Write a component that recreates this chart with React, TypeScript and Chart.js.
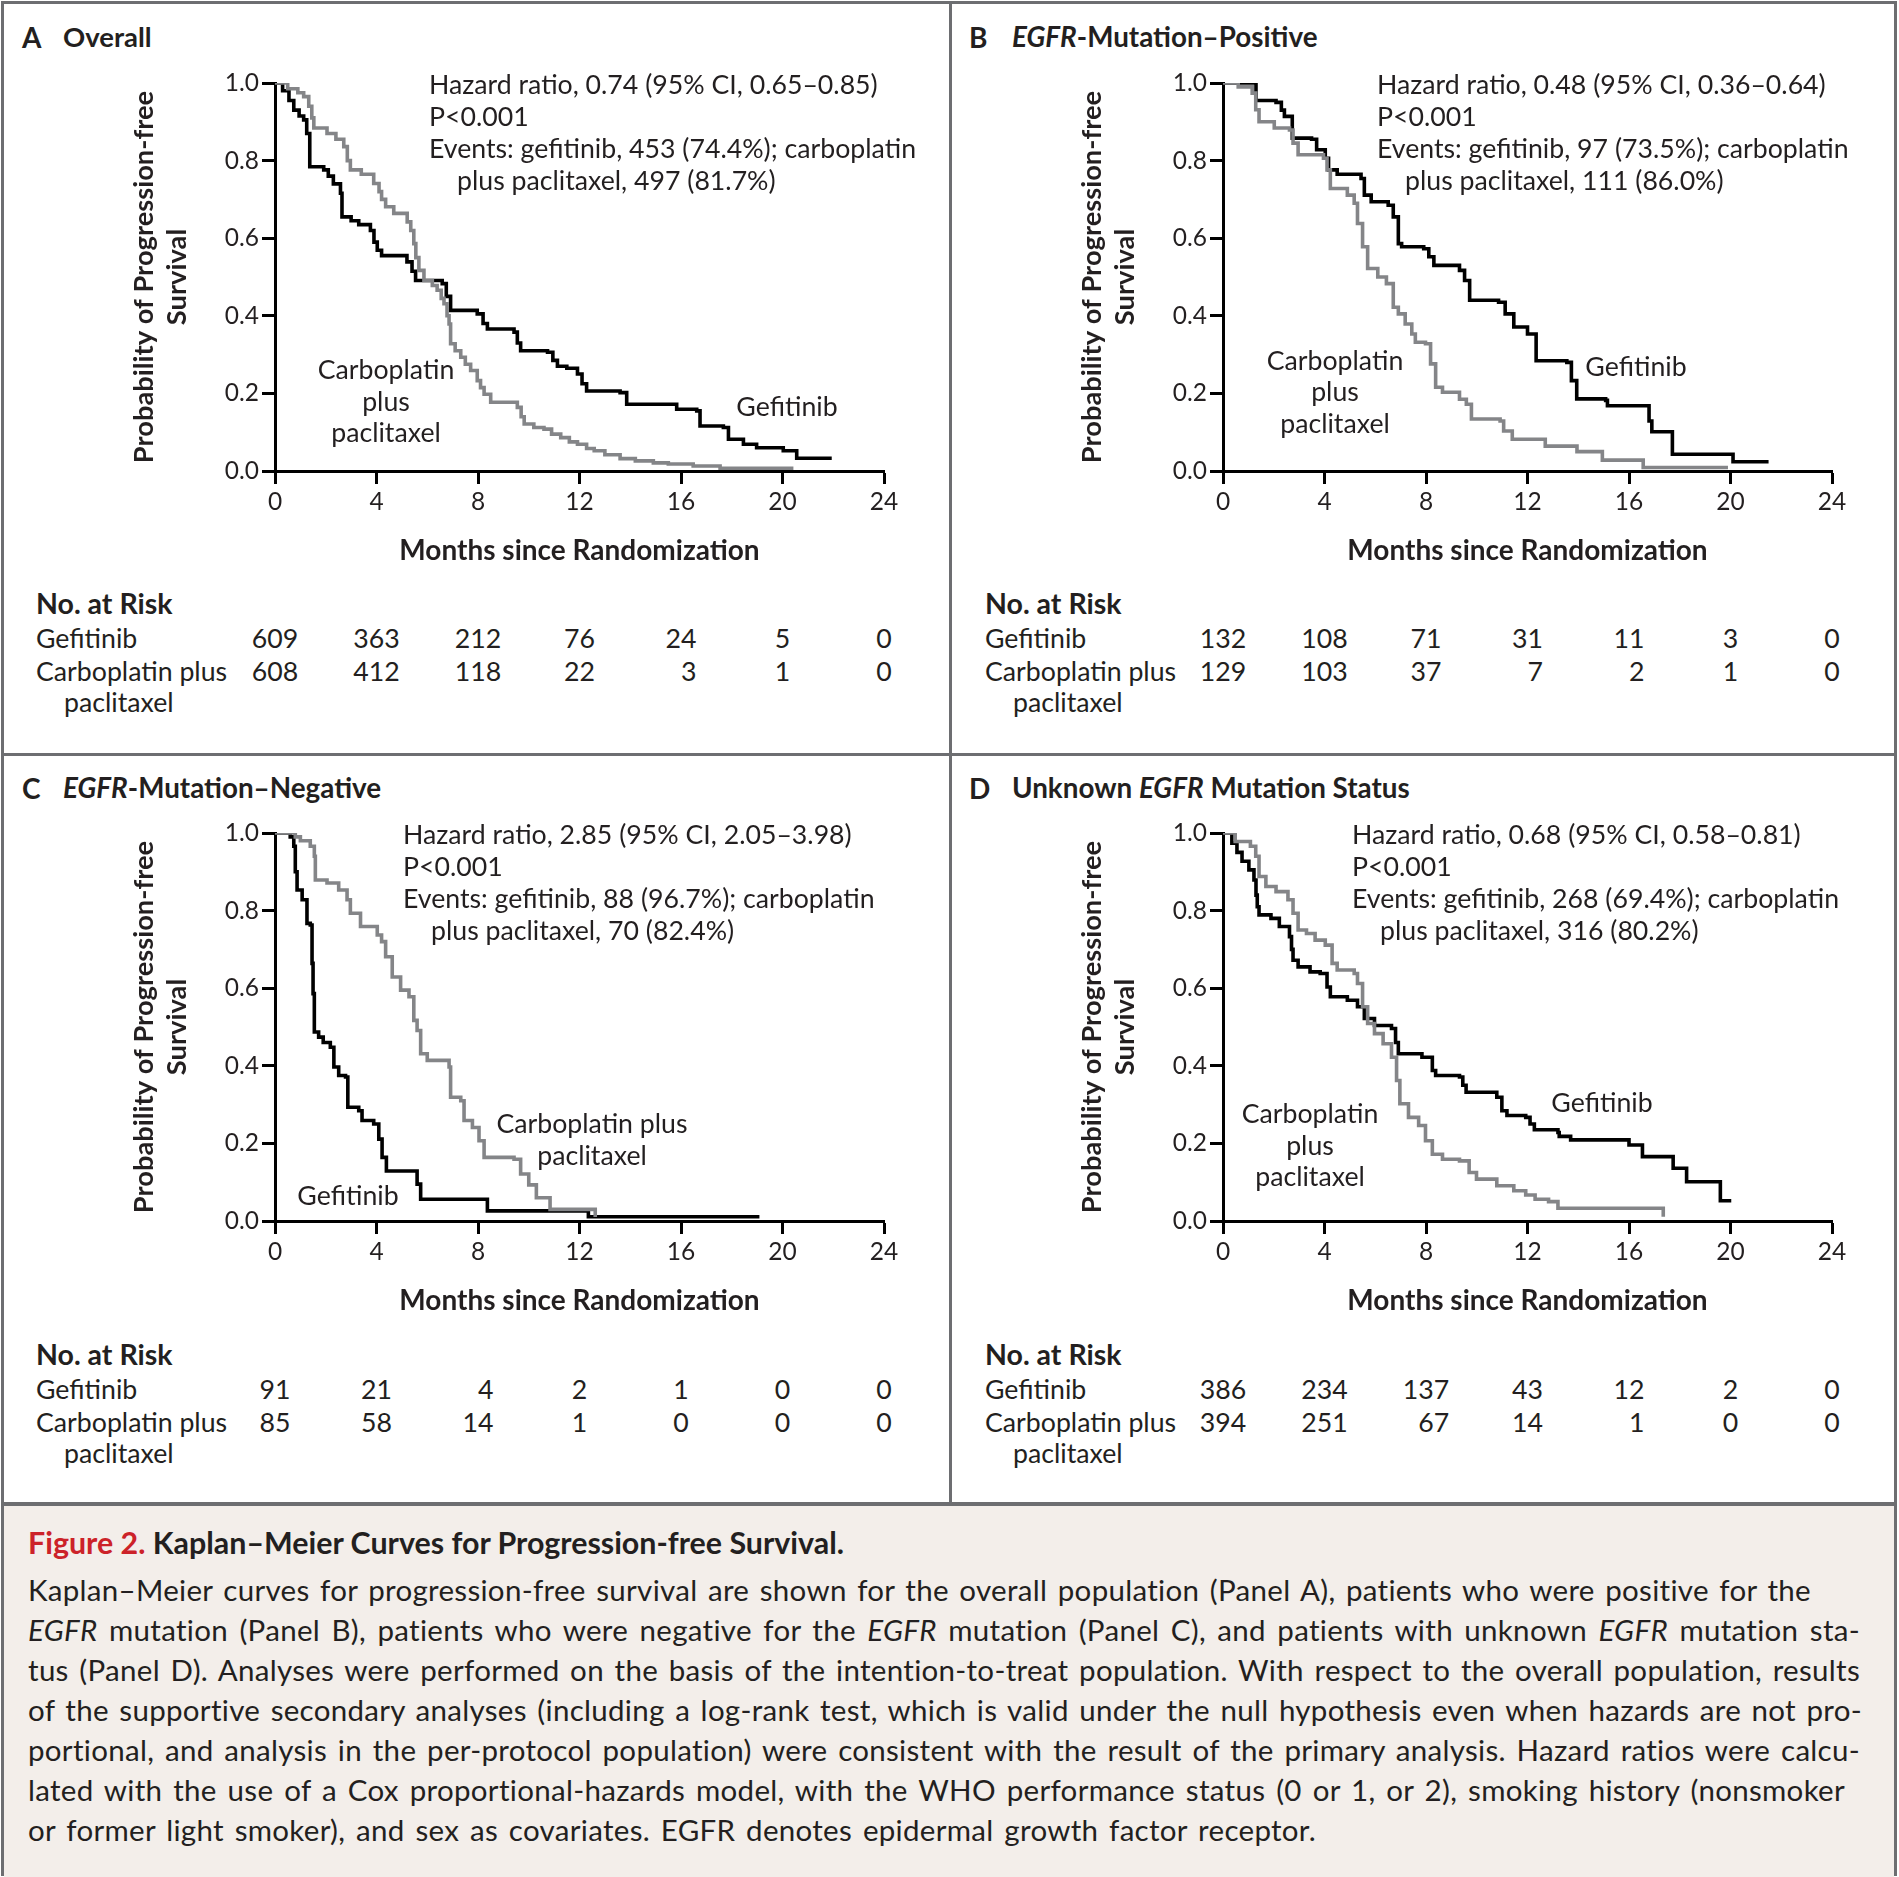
import React, { useEffect, useRef } from 'react';
import { Chart, registerables } from 'chart.js';

Chart.register(...registerables);

const FONT = 'Lato, "Open Sans", sans-serif';
const INK = '#231f20';
const GRAY = '#848588';
const FRAME = '#6d6e71';
const TEXT_SIZE = 26.7;

// ---------- axis ticks ----------
const MONTH_TICKS = [0, 4, 8, 12, 16, 20, 24];
const PROB_TICKS = [0, 0.2, 0.4, 0.6, 0.8, 1.0];

// ---------- Panel A: Overall (months, probability) ----------
const A_GEFITINIB: [number, number][] = [[0,1],[0.3,0.98],[0.55,0.955],[0.74,0.93],[0.95,0.915],[1.13,0.905],[1.25,0.87],[1.37,0.784],[1.92,0.776],[2.1,0.76],[2.3,0.74],[2.58,0.716],[2.64,0.655],[3.0,0.645],[3.3,0.635],[3.76,0.62],[3.9,0.59],[4.03,0.569],[4.2,0.555],[5.2,0.539],[5.4,0.515],[5.54,0.491],[6.59,0.483],[6.75,0.45],[6.92,0.414],[7.97,0.405],[8.2,0.38],[8.37,0.366],[9.42,0.358],[9.55,0.33],[9.68,0.31],[10.74,0.306],[10.95,0.285],[11.13,0.27],[11.5,0.265],[11.92,0.25],[12.1,0.225],[12.28,0.206],[13.6,0.202],[13.86,0.172],[15.83,0.159],[16.62,0.155],[16.75,0.116],[17.67,0.112],[17.87,0.082],[18.46,0.069],[18.98,0.06],[20.03,0.052],[20.56,0.033],[21.94,0.033]];
const A_CARBO: [number, number][] = [[0,1],[0.5,0.985],[0.9,0.975],[1.13,0.965],[1.33,0.94],[1.45,0.91],[1.53,0.884],[2.05,0.87],[2.4,0.855],[2.71,0.836],[2.85,0.8],[2.97,0.776],[3.4,0.765],[3.89,0.741],[4.1,0.72],[4.2,0.7],[4.36,0.681],[4.68,0.664],[5.21,0.642],[5.35,0.62],[5.47,0.586],[5.55,0.55],[5.67,0.517],[5.87,0.491],[6.2,0.478],[6.39,0.466],[6.55,0.445],[6.66,0.431],[6.78,0.4],[6.86,0.379],[6.92,0.328],[7.1,0.31],[7.32,0.293],[7.5,0.275],[7.71,0.259],[7.97,0.233],[8.1,0.215],[8.24,0.198],[8.5,0.177],[9.55,0.164],[9.7,0.14],[9.82,0.121],[10.2,0.112],[10.6,0.108],[10.9,0.095],[11.26,0.086],[11.6,0.075],[11.92,0.069],[12.28,0.058],[12.58,0.052],[13.0,0.042],[13.6,0.032],[14.2,0.026],[14.91,0.021],[15.5,0.018],[16.48,0.013],[17.54,0.007],[20.43,0.007]];
const A_RISK_GEF = [609, 363, 212, 76, 24, 5, 0];
const A_RISK_CARBO = [608, 412, 118, 22, 3, 1, 0];

// ---------- Panel B: EGFR-mutation-positive ----------
const B_GEFITINIB: [number, number][] = [[0,1],[1.3,0.955],[2.09,0.95],[2.3,0.93],[2.42,0.914],[2.73,0.858],[3.49,0.855],[3.69,0.828],[4.03,0.806],[4.16,0.776],[4.5,0.765],[5.44,0.754],[5.57,0.711],[5.84,0.694],[6.51,0.685],[6.71,0.655],[6.91,0.586],[7.04,0.578],[7.91,0.573],[8.11,0.552],[8.31,0.53],[9.32,0.517],[9.52,0.491],[9.72,0.44],[10.86,0.435],[11.12,0.405],[11.46,0.371],[12.0,0.353],[12.34,0.284],[13.55,0.28],[13.73,0.233],[13.94,0.186],[15.08,0.182],[15.15,0.168],[16.79,0.129],[16.9,0.101],[17.71,0.043],[20.1,0.024],[21.5,0.024]];
const B_CARBO: [number, number][] = [[0,1],[0.6,0.99],[1.15,0.974],[1.29,0.931],[1.42,0.9],[2.02,0.884],[2.62,0.879],[2.76,0.845],[2.96,0.815],[3.96,0.806],[4.1,0.776],[4.23,0.728],[4.9,0.711],[5.17,0.69],[5.3,0.638],[5.5,0.578],[5.7,0.522],[6.1,0.5],[6.44,0.483],[6.71,0.422],[6.91,0.405],[7.18,0.379],[7.44,0.353],[7.58,0.332],[7.98,0.328],[8.18,0.276],[8.38,0.216],[8.65,0.203],[9.32,0.185],[9.59,0.172],[9.79,0.134],[10.92,0.129],[11.06,0.103],[11.4,0.082],[12.7,0.064],[13.95,0.05],[14.95,0.028],[16.56,0.009],[19.9,0.009]];
const B_RISK_GEF = [132, 108, 71, 31, 11, 3, 0];
const B_RISK_CARBO = [129, 103, 37, 7, 2, 1, 0];

// ---------- Panel C: EGFR-mutation-negative ----------
const C_GEFITINIB: [number, number][] = [[0,1],[0.6,0.99],[0.74,0.966],[0.8,0.9],[0.87,0.853],[1.07,0.828],[1.26,0.767],[1.39,0.763],[1.46,0.664],[1.5,0.586],[1.55,0.487],[1.72,0.474],[1.9,0.46],[2.18,0.448],[2.32,0.397],[2.51,0.375],[2.78,0.371],[2.87,0.293],[3.3,0.284],[3.43,0.259],[3.89,0.25],[4.09,0.211],[4.22,0.164],[4.39,0.129],[5.6,0.095],[5.74,0.056],[8.37,0.026],[12.35,0.011],[19.09,0.011]];
const C_CARBO: [number, number][] = [[0,1],[0.8,0.99],[1.0,0.98],[1.39,0.966],[1.55,0.94],[1.59,0.879],[2.05,0.871],[2.51,0.853],[2.84,0.828],[2.97,0.793],[3.37,0.759],[4.03,0.737],[4.2,0.72],[4.36,0.681],[4.62,0.629],[4.95,0.595],[5.28,0.578],[5.47,0.517],[5.6,0.491],[5.74,0.431],[6.0,0.414],[6.86,0.397],[6.92,0.319],[7.32,0.31],[7.45,0.259],[7.78,0.241],[8.04,0.207],[8.24,0.164],[9.42,0.159],[9.68,0.121],[10.0,0.093],[10.3,0.06],[10.84,0.03],[12.62,0.01]];
const C_RISK_GEF = [91, 21, 4, 2, 1, 0, 0];
const C_RISK_CARBO = [85, 58, 14, 1, 0, 0, 0];

// ---------- Panel D: unknown EGFR status ----------
const D_GEFITINIB: [number, number][] = [[0,1],[0.35,0.974],[0.55,0.95],[0.75,0.927],[1.02,0.905],[1.22,0.879],[1.3,0.84],[1.35,0.81],[1.42,0.789],[1.89,0.78],[2.22,0.759],[2.62,0.733],[2.7,0.7],[2.76,0.672],[2.96,0.655],[3.43,0.642],[3.83,0.638],[4.1,0.603],[4.23,0.578],[4.9,0.569],[5.3,0.552],[5.57,0.522],[5.97,0.504],[6.64,0.496],[6.8,0.46],[6.91,0.431],[7.84,0.422],[8.25,0.388],[8.38,0.375],[9.32,0.371],[9.45,0.35],[9.58,0.332],[10.79,0.319],[10.99,0.284],[11.19,0.272],[11.93,0.267],[12.1,0.25],[12.27,0.235],[13.2,0.228],[13.25,0.218],[13.7,0.209],[16.0,0.196],[16.53,0.166],[17.74,0.136],[18.27,0.101],[19.6,0.052],[20.03,0.052]];
const D_CARBO: [number, number][] = [[0,1],[0.48,0.978],[1.08,0.966],[1.29,0.94],[1.42,0.888],[1.69,0.862],[2.09,0.849],[2.56,0.828],[2.76,0.793],[2.96,0.75],[3.29,0.741],[3.63,0.724],[4.03,0.711],[4.3,0.664],[4.5,0.647],[5.17,0.638],[5.3,0.612],[5.5,0.552],[5.7,0.509],[5.97,0.483],[6.31,0.457],[6.64,0.422],[6.84,0.362],[6.97,0.302],[7.31,0.267],[7.71,0.246],[7.98,0.207],[8.25,0.172],[8.65,0.159],[9.32,0.155],[9.7,0.125],[9.99,0.108],[10.79,0.091],[11.46,0.078],[11.93,0.067],[12.3,0.056],[12.83,0.05],[13.2,0.033],[17.35,0.011]];
const D_RISK_GEF = [386, 234, 137, 43, 12, 2, 0];
const D_RISK_CARBO = [394, 251, 67, 14, 1, 0, 0];

// ---------- text ----------
const Y_TITLE = ['Probability of Progression-free', 'Survival'];
const X_TITLE = 'Months since Randomization';
const RISK_HEAD = 'No. at Risk';
const RISK_ROW1 = 'Gefitinib';
const RISK_ROW2 = ['Carboplatin plus', 'paclitaxel'];

// ---------- layout constants ----------
const PLOT_W = 609;
const PLOT_H = 388;
const Y_AXIS_W = 175;
const PAD_TOP = 33;
const PAD_RIGHT = 36;
const X_AXIS_H = 100;
const CANVAS_W = Y_AXIS_W + PLOT_W + PAD_RIGHT;
const CANVAS_H = PAD_TOP + PLOT_H + X_AXIS_H;

function KMChart({ left, top, gef, carbo }: { left: number; top: number; gef: [number, number][]; carbo: [number, number][] }) {
  const ref = useRef<HTMLCanvasElement>(null);
  useEffect(() => {
    const tickFont = { family: FONT, size: 24.5 };
    const chart = new Chart(ref.current!, {
      type: 'line',
      data: {
        datasets: [
          {
            label: 'Carboplatin plus paclitaxel',
            data: carbo.map(([x, y]) => ({ x, y })),
            borderColor: GRAY,
            borderWidth: 3.6,
            stepped: true,
            pointRadius: 0,
            fill: false,
          },
          {
            label: 'Gefitinib',
            data: gef.map(([x, y]) => ({ x, y })),
            borderColor: '#000000',
            borderWidth: 3.6,
            stepped: true,
            pointRadius: 0,
            fill: false,
          },
        ],
      },
      options: {
        animation: false,
        responsive: false,
        events: [],
        layout: { padding: { top: PAD_TOP, right: PAD_RIGHT, left: 0, bottom: 0 } },
        plugins: { legend: { display: false }, tooltip: { enabled: false } },
        scales: {
          x: {
            type: 'linear',
            min: 0,
            max: 24,
            afterFit: (s: any) => { s.height = X_AXIS_H; },
            afterBuildTicks: (s: any) => { s.ticks = MONTH_TICKS.map((v) => ({ value: v })); },
            ticks: { font: tickFont, color: INK, padding: 3, maxRotation: 0, callback: (v: any) => String(v) },
            grid: { display: true, drawOnChartArea: false, drawTicks: true, tickLength: 13, tickWidth: 3, tickColor: '#000' },
            border: { display: true, color: '#000', width: 3 },
            title: { display: true, text: X_TITLE, font: { family: FONT, size: 28, weight: 'bold', lineHeight: 1.2 }, color: INK, padding: { top: 0, bottom: 3 } },
          },
          y: {
            type: 'linear',
            min: 0,
            max: 1,
            afterFit: (s: any) => { s.width = Y_AXIS_W; },
            afterBuildTicks: (s: any) => { s.ticks = PROB_TICKS.map((v) => ({ value: v })); },
            ticks: { font: tickFont, color: INK, padding: 3, callback: (v: any) => Number(v).toFixed(1) },
            grid: { display: true, drawOnChartArea: false, drawTicks: true, tickLength: 13, tickWidth: 3, tickColor: '#000' },
            border: { display: true, color: '#000', width: 3 },
            title: { display: true, text: Y_TITLE, font: { family: FONT, size: 27.3, weight: 'bold', lineHeight: 1.21 }, color: INK, padding: { top: 28, bottom: 0 } },
          },
        },
      },
    } as any);
    return () => chart.destroy();
  }, []);
  return (
    <canvas
      ref={ref}
      width={CANVAS_W}
      height={CANVAS_H}
      style={{ position: 'absolute', left: left - Y_AXIS_W, top: top - PAD_TOP, width: CANVAS_W, height: CANVAS_H }}
    />
  );
}

function Txt({ x, y, children, size = TEXT_SIZE, bold = false, align = 'left', lh = 32, color = INK }: any) {
  const tx = align === 'center' ? 'translateX(-50%)' : align === 'right' ? 'translateX(-100%)' : undefined;
  return (
    <div
      style={{
        position: 'absolute',
        left: x,
        top: y - lh / 2,
        lineHeight: lh + 'px',
        fontSize: size,
        fontWeight: bold ? 700 : 400,
        whiteSpace: 'nowrap',
        transform: tx,
        color,
        fontFamily: FONT,
        textAlign: align,
      }}
    >
      {children}
    </div>
  );
}

function RiskTable({ labelX, headY, plotLeft, gef, carbo }: any) {
  const step = PLOT_W / (MONTH_TICKS.length - 1);
  return (
    <>
      <Txt x={labelX} y={headY} bold size={28.5}>{RISK_HEAD}</Txt>
      <Txt x={labelX} y={headY + 35}>{RISK_ROW1}</Txt>
      <Txt x={labelX} y={headY + 68}>{RISK_ROW2[0]}</Txt>
      <Txt x={labelX + 28} y={headY + 99}>{RISK_ROW2[1]}</Txt>
      {gef.map((g: number, i: number) => (
        <div
          key={i}
          style={{
            position: 'absolute',
            left: plotLeft + step * i,
            top: headY + 35 - 16,
            transform: 'translateX(-50%)',
            textAlign: 'right',
            lineHeight: '33px',
            fontSize: TEXT_SIZE,
            fontFamily: FONT,
            color: INK,
            whiteSpace: 'nowrap',
          }}
        >
          <div>{g}</div>
          <div>{carbo[i]}</div>
        </div>
      ))}
    </>
  );
}

function Annot({ x, y, lines }: { x: number; y: number; lines: string[] }) {
  return (
    <>
      {lines.map((l, i) => (
        <Txt key={i} x={i === 3 ? x + 28 : x} y={y + 32 * i}>{l}</Txt>
      ))}
    </>
  );
}

const CAPTION_LINES: { html: React.ReactNode; w: number }[] = [
  { html: <>Kaplan–Meier curves for progression-free survival are shown for the overall population (Panel A), patients who were positive for the</>, w: 1783 },
  { html: <><i>EGFR</i> mutation (Panel B), patients who were negative for the <i>EGFR</i> mutation (Panel C), and patients with unknown <i>EGFR</i> mutation sta-</>, w: 1832 },
  { html: <>tus (Panel D). Analyses were performed on the basis of the intention-to-treat population. With respect to the overall population, results</>, w: 1832 },
  { html: <>of the supportive secondary analyses (including a log-rank test, which is valid under the null hypothesis even when hazards are not pro-</>, w: 1834 },
  { html: <>portional, and analysis in the per-protocol population) were consistent with the result of the primary analysis. Hazard ratios were calcu-</>, w: 1832 },
  { html: <>lated with the use of a Cox proportional-hazards model, with the WHO performance status (0 or 1, or 2), smoking history (nonsmoker</>, w: 1817 },
  { html: <>or former light smoker), and sex as covariates. EGFR denotes epidermal growth factor receptor.</>, w: 1288 },
];

export default function App() {
  return (
    <div style={{ position: 'absolute', left: 0, top: 0, width: 1899, height: 1877, background: '#fff', overflow: 'hidden', fontFamily: FONT, color: INK }}>
      <style>{'body{margin:0;overflow:hidden}'}</style>
      {/* frame */}
      <div style={{ position: 'absolute', left: 1, top: 1, width: 1896, height: 1875, border: `3px solid ${FRAME}`, boxSizing: 'border-box' }} />
      <div style={{ position: 'absolute', left: 949, top: 1, width: 3, height: 1503, background: FRAME }} />
      <div style={{ position: 'absolute', left: 1, top: 753, width: 1896, height: 3, background: FRAME }} />
      <div style={{ position: 'absolute', left: 4, top: 1506, width: 1890, height: 1367, background: '#f3eeea' }} />
      <div style={{ position: 'absolute', left: 1, top: 1502, width: 1896, height: 4, background: FRAME }} />

      {/* panel titles */}
      <Txt x={22} y={37} bold size={28}>A</Txt>
      <Txt x={63} y={37} bold size={27.5}>Overall</Txt>
      <Txt x={969} y={37} bold size={28}>B</Txt>
      <Txt x={1012} y={37} bold size={27.8}><i>EGFR</i>-Mutation–Positive</Txt>
      <Txt x={22} y={788} bold size={28}>C</Txt>
      <Txt x={63} y={788} bold size={27.8}><i>EGFR</i>-Mutation–Negative</Txt>
      <Txt x={969} y={788} bold size={28}>D</Txt>
      <Txt x={1012} y={788} bold size={27.8}>Unknown <i>EGFR</i> Mutation Status</Txt>

      {/* charts */}
      <KMChart left={275} top={83} gef={A_GEFITINIB} carbo={A_CARBO} />
      <KMChart left={1223} top={83} gef={B_GEFITINIB} carbo={B_CARBO} />
      <KMChart left={275} top={833} gef={C_GEFITINIB} carbo={C_CARBO} />
      <KMChart left={1223} top={833} gef={D_GEFITINIB} carbo={D_CARBO} />

      {/* annotations */}
      <Annot x={429} y={84} lines={['Hazard ratio, 0.74 (95% CI, 0.65–0.85)', 'P<0.001', 'Events: gefitinib, 453 (74.4%); carboplatin', 'plus paclitaxel, 497 (81.7%)']} />
      <Annot x={1377} y={84} lines={['Hazard ratio, 0.48 (95% CI, 0.36–0.64)', 'P<0.001', 'Events: gefitinib, 97 (73.5%); carboplatin', 'plus paclitaxel, 111 (86.0%)']} />
      <Annot x={403} y={834} lines={['Hazard ratio, 2.85 (95% CI, 2.05–3.98)', 'P<0.001', 'Events: gefitinib, 88 (96.7%); carboplatin', 'plus paclitaxel, 70 (82.4%)']} />
      <Annot x={1352} y={834} lines={['Hazard ratio, 0.68 (95% CI, 0.58–0.81)', 'P<0.001', 'Events: gefitinib, 268 (69.4%); carboplatin', 'plus paclitaxel, 316 (80.2%)']} />

      {/* curve labels */}
      <Txt x={386} y={369} align="center">Carboplatin</Txt>
      <Txt x={386} y={401} align="center">plus</Txt>
      <Txt x={386} y={432} align="center">paclitaxel</Txt>
      <Txt x={787} y={406} align="center">Gefitinib</Txt>

      <Txt x={1335} y={360} align="center">Carboplatin</Txt>
      <Txt x={1335} y={391} align="center">plus</Txt>
      <Txt x={1335} y={423} align="center">paclitaxel</Txt>
      <Txt x={1636} y={366} align="center">Gefitinib</Txt>

      <Txt x={592} y={1123} align="center">Carboplatin plus</Txt>
      <Txt x={592} y={1155} align="center">paclitaxel</Txt>
      <Txt x={348} y={1195} align="center">Gefitinib</Txt>

      <Txt x={1310} y={1113} align="center">Carboplatin</Txt>
      <Txt x={1310} y={1145} align="center">plus</Txt>
      <Txt x={1310} y={1176} align="center">paclitaxel</Txt>
      <Txt x={1602} y={1102} align="center">Gefitinib</Txt>

      {/* numbers at risk */}
      <RiskTable labelX={36} headY={603} plotLeft={275} gef={A_RISK_GEF} carbo={A_RISK_CARBO} />
      <RiskTable labelX={985} headY={603} plotLeft={1223} gef={B_RISK_GEF} carbo={B_RISK_CARBO} />
      <RiskTable labelX={36} headY={1354} plotLeft={275} gef={C_RISK_GEF} carbo={C_RISK_CARBO} />
      <RiskTable labelX={985} headY={1354} plotLeft={1223} gef={D_RISK_GEF} carbo={D_RISK_CARBO} />

      {/* caption */}
      <Txt x={28} y={1542} bold size={30.4} lh={40}>
        <span style={{ color: '#cc2229' }}>Figure 2.</span> Kaplan–Meier Curves for Progression-free Survival.
      </Txt>
      {CAPTION_LINES.map((ln, i) => (
        <div
          key={i}
          style={{
            position: 'absolute',
            left: 28,
            top: 1590 + 40 * i - 20,
            width: ln.w,
            lineHeight: '40px',
            fontSize: 29.5,
            letterSpacing: '0.3px',
            fontFamily: FONT,
            color: INK,
            textAlign: 'justify',
            textAlignLast: 'justify',
            whiteSpace: 'normal',
          } as any}
        >
          {ln.html}
        </div>
      ))}
    </div>
  );
}
